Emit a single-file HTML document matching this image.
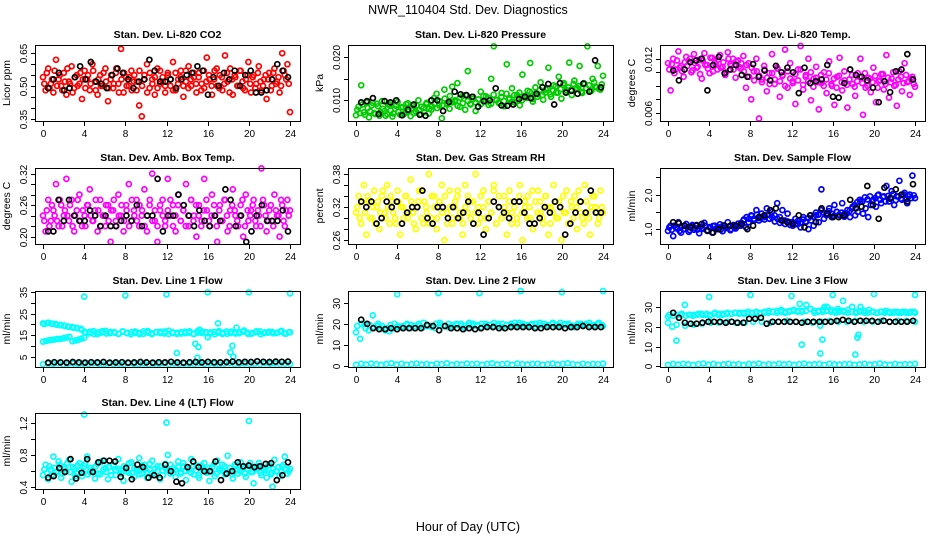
<!DOCTYPE html>
<html><head><meta charset="utf-8"><style>
html,body{margin:0;padding:0;background:#fff;}
svg{display:block;font-family:"Liberation Sans",Arial,sans-serif;}
</style></head><body>
<svg id="chart" width="936" height="540" viewBox="0 0 936 540" xmlns="http://www.w3.org/2000/svg">
<rect x="0" y="0" width="936" height="540" fill="#fff"/>
<text x="468" y="14" text-anchor="middle" font-size="12.5">NWR_110404  Std. Dev. Diagnostics</text>
<text x="468" y="531" text-anchor="middle" font-size="12.5">Hour of Day (UTC)</text>
</svg>
<script>
// ---------- data (hour spans and values) ----------
const xTicks = [0,4,8,12,16,20,24];
const fullSpan = [0,24];
const altSpan = [0.12,23.88];
const blackSpan = [0.5,23.8];

const co2Y = [0.54,0.48,0.58,0.51,0.47,0.62,0.53,0.50,0.56,0.46,0.52,0.59,0.49,0.55,0.51,0.44,0.57,0.53,0.48,0.60,0.52,0.46,0.55,0.50,0.58,0.43,0.53,0.49,0.56,0.51,0.67,0.47,0.54,0.50,0.57,0.52,0.48,0.41,0.36,0.55,0.60,0.49,0.53,0.46,0.58,0.51,0.54,0.47,0.56,0.50,0.61,0.48,0.53,0.57,0.45,0.52,0.59,0.50,0.54,0.47,0.56,0.51,0.49,0.63,0.53,0.46,0.57,0.50,0.55,0.48,0.64,0.52,0.58,0.46,0.54,0.50,0.57,0.49,0.53,0.61,0.47,0.55,0.51,0.59,0.48,0.53,0.44,0.56,0.50,0.58,0.52,0.47,0.65,0.55,0.60,0.38];
const co2Y2 = [0.51,0.56,0.49,0.53,0.57,0.50,0.55,0.48,0.52,0.58,0.51,0.47,0.54,0.50,0.56,0.53,0.49,0.55,0.51,0.57,0.48,0.53,0.50,0.56,0.52,0.49,0.55,0.51,0.58,0.47,0.53,0.56,0.50,0.54,0.48,0.55,0.52,0.57,0.50,0.53,0.47,0.56,0.51,0.54,0.49,0.57,0.52,0.50,0.55,0.53,0.48,0.56,0.51,0.54,0.50,0.57,0.49,0.53,0.56,0.51,0.54,0.48,0.57,0.52,0.55,0.50,0.53,0.58,0.49,0.54,0.51,0.56,0.47,0.53,0.55,0.50,0.57,0.52,0.48,0.55,0.51,0.54,0.49,0.56,0.52,0.50,0.55,0.53,0.48,0.56,0.51,0.54,0.50,0.57,0.53,0.51];
const co2BlackY = [0.49,0.53,0.56,0.48,0.49,0.54,0.59,0.53,0.61,0.52,0.51,0.49,0.55,0.58,0.56,0.53,0.49,0.52,0.53,0.62,0.57,0.52,0.52,0.53,0.49,0.53,0.55,0.56,0.59,0.57,0.46,0.54,0.50,0.56,0.53,0.57,0.50,0.55,0.57,0.47,0.47,0.48,0.53,0.60,0.57,0.54];

const pressY = [0.0065,0.0085,0.0135,0.0072,0.0095,0.0060,0.0088,0.0070,0.0092,0.0064,0.0098,0.0075,0.0068,0.0090,0.0062,0.0080,0.0096,0.0066,0.0084,0.0071,0.0093,0.0063,0.0087,0.0074,0.0100,0.0067,0.0082,0.0091,0.0069,0.0078,0.0105,0.0115,0.0088,0.0058,0.0125,0.0093,0.0080,0.0132,0.0097,0.0140,0.0085,0.0110,0.0078,0.0168,0.0092,0.0103,0.0075,0.0086,0.0120,0.0098,0.0109,0.0089,0.0150,0.0226,0.0101,0.0093,0.0117,0.0086,0.0184,0.0105,0.0128,0.0095,0.0112,0.0088,0.0160,0.0106,0.0122,0.0187,0.0097,0.0130,0.0114,0.0142,0.0101,0.0125,0.0176,0.0108,0.0135,0.0118,0.0155,0.0104,0.0140,0.0124,0.0188,0.0112,0.0146,0.0129,0.0180,0.0117,0.0138,0.0226,0.0122,0.0150,0.0132,0.0180,0.0125,0.0157];
const pressY2 = [0.0078,0.0070,0.0090,0.0066,0.0082,0.0074,0.0094,0.0068,0.0086,0.0072,0.0080,0.0064,0.0090,0.0076,0.0069,0.0087,0.0073,0.0083,0.0067,0.0091,0.0075,0.0081,0.0070,0.0088,0.0077,0.0085,0.0072,0.0094,0.0080,0.0086,0.0092,0.0082,0.0098,0.0088,0.0104,0.0090,0.0110,0.0095,0.0100,0.0087,0.0106,0.0093,0.0112,0.0098,0.0090,0.0108,0.0095,0.0102,0.0091,0.0110,0.0097,0.0105,0.0092,0.0113,0.0100,0.0095,0.0108,0.0098,0.0115,0.0102,0.0096,0.0112,0.0104,0.0118,0.0100,0.0110,0.0106,0.0120,0.0103,0.0115,0.0108,0.0124,0.0112,0.0118,0.0128,0.0114,0.0122,0.0132,0.0118,0.0126,0.0136,0.0120,0.0130,0.0124,0.0138,0.0127,0.0133,0.0120,0.0140,0.0128,0.0135,0.0122,0.0142,0.0130,0.0126,0.0137];
const pressBlackY = [0.0095,0.0098,0.0105,0.0068,0.0098,0.0095,0.0100,0.0065,0.0078,0.0090,0.0066,0.0064,0.0100,0.0100,0.0075,0.0096,0.0120,0.0114,0.0112,0.0108,0.0085,0.0098,0.0100,0.0128,0.0088,0.0087,0.0090,0.0103,0.0108,0.0105,0.0115,0.0130,0.0138,0.0090,0.0140,0.0118,0.0122,0.0115,0.0139,0.0120,0.0193,0.0130];

const tempY = [0.0115,0.0085,0.0120,0.0108,0.0128,0.0112,0.0100,0.0122,0.0117,0.0105,0.0125,0.0110,0.0119,0.0098,0.0126,0.0113,0.0104,0.0121,0.0116,0.0108,0.0124,0.0111,0.0102,0.0127,0.0114,0.0120,0.0099,0.0118,0.0109,0.0123,0.0088,0.0115,0.0075,0.0106,0.0120,0.0054,0.0097,0.0112,0.0084,0.0104,0.0125,0.0092,0.0110,0.0078,0.0101,0.0130,0.0088,0.0115,0.0095,0.0070,0.0108,0.0134,0.0086,0.0102,0.0120,0.0074,0.0098,0.0111,0.0064,0.0093,0.0105,0.0082,0.0117,0.0090,0.0069,0.0100,0.0121,0.0085,0.0096,0.0066,0.0108,0.0092,0.0079,0.0104,0.0120,0.0058,0.0088,0.0099,0.0083,0.0110,0.0072,0.0095,0.0103,0.0086,0.0124,0.0077,0.0098,0.0090,0.0068,0.0106,0.0084,0.0115,0.0094,0.0080,0.0100,0.0089];
const tempY2 = [0.0108,0.0114,0.0104,0.0118,0.0110,0.0106,0.0116,0.0112,0.0120,0.0107,0.0115,0.0111,0.0103,0.0118,0.0113,0.0109,0.0121,0.0106,0.0114,0.0119,0.0110,0.0116,0.0105,0.0120,0.0112,0.0108,0.0117,0.0111,0.0115,0.0106,0.0113,0.0100,0.0110,0.0096,0.0106,0.0101,0.0094,0.0108,0.0099,0.0092,0.0104,0.0097,0.0109,0.0095,0.0102,0.0090,0.0106,0.0098,0.0093,0.0103,0.0096,0.0108,0.0091,0.0100,0.0095,0.0105,0.0089,0.0099,0.0094,0.0102,0.0090,0.0097,0.0104,0.0092,0.0098,0.0088,0.0101,0.0094,0.0106,0.0091,0.0097,0.0102,0.0089,0.0095,0.0100,0.0093,0.0104,0.0090,0.0098,0.0094,0.0101,0.0088,0.0096,0.0103,0.0092,0.0099,0.0094,0.0105,0.0091,0.0097,0.0100,0.0093,0.0102,0.0095,0.0098,0.0092];
const tempBlackY = [0.0107,0.0096,0.0108,0.0116,0.0118,0.0120,0.0085,0.0113,0.0122,0.0104,0.0108,0.0113,0.0102,0.0100,0.0114,0.0100,0.0107,0.0096,0.0112,0.0105,0.0110,0.0105,0.0082,0.0110,0.0093,0.0095,0.0097,0.0113,0.0078,0.0077,0.0093,0.0108,0.0102,0.0100,0.0096,0.0088,0.0072,0.0095,0.0083,0.0106,0.0108,0.0125,0.0097];

const boxY = [0.24,0.21,0.27,0.23,0.25,0.30,0.22,0.26,0.24,0.31,0.23,0.27,0.21,0.25,0.28,0.22,0.24,0.26,0.29,0.23,0.25,0.21,0.27,0.24,0.22,0.26,0.19,0.25,0.23,0.28,0.24,0.21,0.26,0.30,0.23,0.25,0.27,0.22,0.24,0.29,0.21,0.26,0.32,0.23,0.19,0.25,0.27,0.22,0.31,0.24,0.26,0.21,0.28,0.23,0.25,0.30,0.22,0.27,0.24,0.20,0.26,0.23,0.31,0.25,0.22,0.28,0.24,0.19,0.26,0.23,0.27,0.21,0.25,0.29,0.24,0.22,0.26,0.20,0.28,0.23,0.25,0.27,0.22,0.24,0.33,0.26,0.21,0.25,0.23,0.28,0.24,0.20,0.26,0.22,0.27,0.25];
const boxY2 = [0.23,0.25,0.22,0.26,0.24,0.23,0.27,0.22,0.25,0.24,0.26,0.22,0.24,0.27,0.23,0.25,0.22,0.26,0.24,0.23,0.27,0.25,0.22,0.24,0.26,0.23,0.25,0.27,0.22,0.24,0.26,0.23,0.25,0.22,0.27,0.24,0.23,0.26,0.25,0.22,0.24,0.27,0.23,0.25,0.22,0.26,0.24,0.23,0.25,0.27,0.22,0.24,0.26,0.23,0.25,0.22,0.24,0.27,0.23,0.26,0.24,0.22,0.25,0.27,0.23,0.24,0.26,0.22,0.25,0.23,0.27,0.24,0.22,0.26,0.25,0.23,0.24,0.27,0.22,0.25,0.24,0.26,0.23,0.25,0.22,0.27,0.24,0.23,0.26,0.22,0.25,0.24,0.27,0.23,0.25,0.24];
const boxBlackY = [0.21,0.21,0.27,0.23,0.27,0.24,0.23,0.23,0.25,0.24,0.22,0.24,0.22,0.22,0.23,0.24,0.23,0.26,0.22,0.24,0.24,0.31,0.21,0.24,0.24,0.28,0.26,0.24,0.22,0.25,0.23,0.22,0.24,0.23,0.29,0.27,0.22,0.24,0.19,0.21,0.24,0.26,0.23,0.23,0.23,0.25,0.21];

const rhY = [0.31,0.34,0.29,0.36,0.27,0.33,0.30,0.35,0.32,0.28,0.34,0.31,0.36,0.29,0.33,0.30,0.35,0.27,0.32,0.34,0.30,0.37,0.31,0.28,0.33,0.35,0.29,0.32,0.38,0.30,0.34,0.28,0.33,0.36,0.26,0.31,0.35,0.29,0.32,0.34,0.30,0.27,0.36,0.31,0.33,0.29,0.38,0.32,0.30,0.35,0.28,0.33,0.31,0.36,0.29,0.34,0.30,0.32,0.27,0.35,0.31,0.33,0.29,0.36,0.26,0.32,0.34,0.30,0.28,0.33,0.35,0.31,0.29,0.34,0.27,0.32,0.36,0.30,0.33,0.26,0.31,0.35,0.29,0.32,0.34,0.28,0.33,0.30,0.36,0.31,0.27,0.34,0.32,0.29,0.35,0.31];
const rhY2 = [0.32,0.30,0.33,0.31,0.34,0.30,0.32,0.29,0.33,0.31,0.35,0.30,0.32,0.34,0.31,0.29,0.33,0.32,0.30,0.34,0.31,0.33,0.29,0.32,0.35,0.30,0.33,0.31,0.29,0.34,0.32,0.30,0.33,0.31,0.34,0.29,0.32,0.30,0.33,0.35,0.31,0.29,0.32,0.34,0.30,0.33,0.31,0.29,0.34,0.32,0.30,0.33,0.31,0.35,0.29,0.32,0.30,0.34,0.31,0.33,0.29,0.32,0.30,0.34,0.31,0.33,0.30,0.32,0.35,0.29,0.31,0.33,0.30,0.34,0.32,0.29,0.31,0.33,0.30,0.32,0.34,0.31,0.29,0.33,0.30,0.32,0.35,0.31,0.29,0.33,0.30,0.32,0.34,0.31,0.30,0.32];
const rhBlackY = [0.33,0.32,0.33,0.29,0.30,0.33,0.32,0.33,0.29,0.31,0.32,0.32,0.35,0.30,0.29,0.32,0.32,0.30,0.32,0.30,0.31,0.33,0.29,0.31,0.27,0.30,0.33,0.32,0.31,0.30,0.33,0.33,0.31,0.29,0.29,0.30,0.32,0.31,0.33,0.32,0.27,0.29,0.31,0.33,0.31,0.35,0.31,0.31];

const flowY = [0.95,1.10,0.80,1.05,1.20,0.90,1.00,1.15,0.92,1.08,0.98,1.12,0.88,1.03,1.18,0.96,1.06,0.90,1.10,1.00,1.14,0.94,1.05,1.20,0.97,1.08,1.02,1.16,1.10,1.25,1.05,1.20,1.40,1.30,1.55,1.25,1.45,1.35,1.60,1.30,1.50,1.40,1.75,1.35,1.55,1.25,1.45,1.20,1.10,1.30,1.15,1.05,1.35,1.20,1.00,1.25,1.10,1.40,1.20,2.15,1.30,1.45,1.60,1.35,1.70,1.50,1.40,1.75,1.45,1.55,1.35,1.65,1.40,1.50,1.80,1.45,1.60,1.35,1.70,1.85,1.65,2.00,1.75,1.95,2.25,1.80,2.10,1.70,1.95,2.40,1.85,2.05,1.75,2.00,2.55,1.90];
const flowY2 = [1.05,0.98,1.10,1.02,0.95,1.08,1.00,1.06,0.97,1.12,1.03,0.99,1.07,1.01,1.10,0.96,1.04,1.09,1.00,1.06,0.98,1.11,1.03,1.07,1.00,1.12,1.05,1.10,1.18,1.28,1.35,1.30,1.38,1.25,1.42,1.32,1.36,1.28,1.40,1.30,1.34,1.22,1.30,1.18,1.25,1.15,1.22,1.12,1.20,1.14,1.24,1.18,1.28,1.22,1.32,1.40,1.36,1.48,1.42,1.55,1.48,1.40,1.52,1.45,1.38,1.50,1.42,1.48,1.36,1.46,1.52,1.60,1.70,1.78,1.85,1.80,1.92,1.86,1.95,1.82,1.90,1.98,1.85,1.93,1.80,1.96,1.88,2.02,1.84,1.94,1.88,2.00,1.86,1.95,1.90,1.98];
const flowBlackY = [1.20,1.17,1.10,1.05,1.10,1.15,0.95,0.90,1.00,1.10,1.10,1.10,1.15,1.00,1.10,1.35,1.40,1.55,1.60,1.25,1.20,1.15,1.40,1.05,1.40,1.20,1.60,1.45,1.35,1.35,1.40,1.85,1.60,1.65,2.25,1.70,1.30,2.20,1.90,2.15,2.00,1.80,2.30];

const line1HighY = [20.5,20.6,20.4,20.2,19.8,19.5,19.0,18.8,18.4,18.0,16.5,15.8,16.9,15.5,16.2,17.0,15.9,16.4,15.6,16.8,16.1,15.4,16.7,16.0,15.7,16.9,15.5,16.3,16.6,15.8,17.1,16.0,15.6,16.4,15.9,16.8,15.5,16.2,16.7,15.9,16.3,15.4,16.9,16.1,15.7,16.6,15.8,16.4,17.2,15.6,16.0,16.8,15.5,16.3,16.6,15.9,16.2,17.0,15.7,16.4];
const line1High2Y = [20.2,20.8,20.3,19.9,19.6,19.3,18.9,18.5,18.2,17.6,16.0,16.6,15.6,16.3,16.9,15.8,16.5,16.1,15.7,16.6,15.9,16.4,16.0,15.5,16.8,16.2,15.9,16.5,16.0,16.7,15.6,16.3,16.1,15.8,16.6,16.2,15.7,16.9,16.0,16.4,15.8,16.5,16.2,15.6,16.7,16.0,16.3,15.9,16.6,16.1,15.7,16.4,16.8,15.9,16.2,16.5,16.0,16.7,15.8,16.3];
const line1LowSpan = [0,4];
const line1LowY = [12.0,12.3,12.6,12.8,13.0,13.2,13.3,13.6,13.9,14.2,12.2,12.5,12.9,13.4,13.8];
const line1BaseY = [1.4,1.7,1.5,1.9,1.3,1.6,1.8,1.4,1.7,1.5,1.9,1.6,1.3,1.8,1.5,1.7,1.4,1.9,1.6,1.5,1.8,1.3,1.7,1.6,1.9,1.4,1.8,1.5,1.7,1.6,1.4,1.9,1.5,1.8,1.6,1.3,1.7,1.9,1.5,1.6,1.8,1.4,1.7,1.5,1.9,1.6,1.8,1.4,1.7,1.5];
const line1OutX = [4,8,12,16,20,24,13,14.8,15,15.1,17,18.2,18.4,18.5,16,18.8,15.2];
const line1OutY = [33,33.5,34,35,35,34.5,6.7,11,4.5,9.5,20.5,7,10,5,14,18.5,17.5];
const line1BlackY = [2.2,2.4,2.3,2.2,2.5,2.3,2.2,2.4,2.3,2.5,2.2,2.3,2.4,2.2,2.3,2.5,2.3,2.2,2.4,2.3,2.6,2.3,2.2,2.4,2.5,2.3,2.6,2.4,2.3,2.5,2.7,2.4,2.6,2.5,2.8,2.6,2.5,2.7,2.6,2.7];

const line2HighY = [16,13,20,17,24,19,18,17,16.5,18,19,18.5,19.5,18,19,20,18.5,19.5,19,18,20.5,19,18.5,19.5,20,19,18,19.5,20,19,18.5,20,19.5,19,20,18.5,19.5,20,19,20.5,19,19.5,20,18.5,19.5,20,19,20.5,19.5,19,20,19.5,18.5,20,19.5,20,19,19.5,20.5,19];
const line2High2Y = [19,20,18,19.5,18.5,20,19,18,19.5,20,18.5,19,20,19.5,18,19,20.5,19,18.5,20,19.5,19,20,18.5,19.5,20,19,20.5,19,19.5,20,19,19.5,20.5,19,20,19.5,19,20.5,19.5,20,19,19.5,20,20.5,19,19.5,20,19,20.5,19.5,20,19,19.5,20,19.5,20.5,19,20,19.5];
const line2BaseY = [0.8,1.2,0.9,1.3,1.0,0.7,1.1,1.4,0.9,1.2,0.8,1.0,1.3,0.9,1.1,0.7,1.2,1.0,1.4,0.8,1.1,0.9,1.3,1.0,1.2,0.8,1.1,1.4,0.9,1.0,1.2,0.8,1.3,1.0,0.9,1.1,1.2,0.8,1.0,1.3,0.9,1.1,1.4,1.0,0.8,1.2,0.9,1.1,1.0,1.3];
const line2OutX = [4,8,12,16,20,24];
const line2OutY = [34,34.5,34.5,35.5,35,35.5];
const line2BlackY = [22,20,18,17.5,17.5,18,17.5,18,18,18,18,19.5,19,17,19,18,18,17.5,18,17.5,18,18.5,18.5,18,18,18.5,18.5,18.5,18.5,18,18,18.5,18.5,18.5,18,18.5,18.5,19,18.5,18.5,18.5];

const line3HighY = [25,20,13,26,31,26,25.5,26,26.5,26,25.5,26.5,26,26,26.5,26.5,27,26.5,27,26.5,27,27,26.5,27,27,27.5,27,27.5,27,27.5,28,27.5,28,31,29,27,28,27.5,30,28.5,27,28,27.5,28.5,30,27.5,28,27,28.5,27.5,27,27.5,28,27,27.5,27,27.5,27,27.5,27];
const line3High2Y = [26,25.5,26,26.5,25.5,26,26,26.5,26,26.5,26,27,26.5,26.5,27,26.5,27,27,26.5,27.5,27,27.5,27,27.5,28,27.5,28,28.5,27.5,28,28.5,28,27.5,28,29,28,27.5,28.5,28,27.5,28,27.5,28,27,27.5,27,27.5,28,27,27.5,27,27.5,27,27.5,27,27.5,27,27.5,27,27.5];
const line3MidY = [22,21,20.5,21,21.5,22,22,22.5,22,22,22.5,22.5,22,22.5,23,22.5,22.5,22,22.5,23,22.5,22.5,23,22.5,22.5,23,22.5,23,23,22.5];
const line3BaseY = [0.8,1.2,0.9,1.3,1.0,0.7,1.1,1.4,0.9,1.2,0.8,1.0,1.3,0.9,1.1,0.7,1.2,1.0,1.4,0.8,1.1,0.9,1.3,1.0,1.2,0.8,1.1,1.4,0.9,1.0,1.2,0.8,1.3,1.0,0.9,1.1,1.2,0.8,1.0,1.3,0.9,1.1,1.4,1.0,0.8,1.2,0.9,1.1,1.0,1.3];
const line3OutX = [4,8,12,16,20,24,13,14.8,15,18.2,18.4,18.5,17,14.8,12.8,15.2,16.5,18.7];
const line3OutY = [35,36,35.5,36,36.5,36,11,6.5,13.5,6,14.5,16,33,20.5,31.5,30,29,30];
const line3BlackY = [27,24.5,22,21.5,21.5,22,22.5,22.5,22.5,22,22.5,22,22,24,24,24.5,21.5,22.5,22.5,22.5,22.5,22.5,22,22.5,22.5,22.5,22.5,22.5,23,23.5,23,22.5,23,23,23,22.5,23,22.5,22.5,22.5,22.5,23];

const line4Y = [0.55,0.68,0.50,0.62,0.78,0.58,0.72,0.52,0.65,0.60,0.74,0.47,0.63,0.57,0.70,0.54,0.66,0.78,0.59,0.62,0.51,0.69,0.56,0.73,0.64,0.50,0.60,0.67,0.55,0.75,0.61,0.48,0.65,0.58,0.71,0.53,0.63,0.76,0.57,0.68,0.52,0.62,0.73,0.55,0.66,0.50,0.61,0.69,0.80,0.57,0.64,0.53,0.72,0.59,0.66,0.49,0.62,0.75,0.56,0.67,0.52,0.63,0.70,0.58,0.48,0.65,0.54,0.73,0.61,0.68,0.56,0.79,0.60,0.51,0.66,0.57,0.71,0.63,0.53,0.67,0.59,0.45,0.64,0.70,0.55,0.62,0.52,0.68,0.58,0.74,0.60,0.54,0.66,0.78,0.57,0.63];
const line4Y2 = [0.62,0.58,0.66,0.55,0.64,0.60,0.68,0.57,0.63,0.70,0.59,0.65,0.54,0.67,0.61,0.58,0.69,0.56,0.64,0.60,0.66,0.57,0.71,0.62,0.59,0.65,0.55,0.68,0.61,0.63,0.57,0.66,0.60,0.70,0.58,0.64,0.61,0.56,0.67,0.62,0.59,0.69,0.57,0.63,0.60,0.66,0.55,0.64,0.61,0.68,0.58,0.62,0.65,0.57,0.70,0.60,0.63,0.58,0.66,0.61,0.55,0.67,0.62,0.59,0.64,0.60,0.69,0.57,0.63,0.61,0.66,0.58,0.64,0.56,0.68,0.62,0.60,0.65,0.57,0.63,0.70,0.59,0.62,0.66,0.58,0.64,0.61,0.67,0.56,0.63,0.60,0.65,0.59,0.68,0.62,0.60];
const line4OutX = [4,12,20,22.3];
const line4OutY = [1.30,1.20,1.22,0.41];
const line4BlackY = [0.52,0.54,0.64,0.59,0.75,0.51,0.58,0.75,0.59,0.71,0.73,0.73,0.72,0.53,0.64,0.50,0.68,0.65,0.52,0.55,0.52,0.68,0.60,0.47,0.45,0.65,0.72,0.65,0.60,0.60,0.72,0.49,0.57,0.60,0.71,0.66,0.67,0.65,0.66,0.69,0.70,0.49,0.55,0.71];

const co2Ticks=[0.35,0.40,0.45,0.50,0.55,0.60,0.65], co2Labels=["0.35","","","0.50","","","0.65"];
const pressTicks=[0.010,0.015,0.020], pressLabels=["0.010","","0.020"];
const tempTicks=[0.006,0.0075,0.009,0.0105,0.012], tempLabels=["0.006","","","","0.012"];
const boxTicks=[0.20,0.22,0.24,0.26,0.28,0.30,0.32], boxLabels=["0.20","","","0.26","","","0.32"];
const rhTicks=[0.26,0.28,0.30,0.32,0.34,0.36,0.38], rhLabels=["0.26","","","0.32","","","0.38"];
const flowTicks=[1.0,1.5,2.0,2.5], flowLabels=["1.0","","2.0",""];
const line1Ticks=[5,10,15,20,25,30,35], line1Labels=["5","","15","","25","","35"];
const line2Ticks=[0,10,20,30], line2Labels=["0","10","20","30"];
const line3Ticks=[0,10,20,30], line3Labels=["0","10","20","30"];
const line4Ticks=[0.4,0.6,0.8,1.0,1.2], line4Labels=["0.4","","0.8","","1.2"];

// ---------- layout ----------
const NS="http://www.w3.org/2000/svg";
const svg=document.getElementById('chart');
const colL=[35,348,660], rowT=[45,168,291,413], PW=265, PH=76;
const XMIN=-0.78, XMAX=24.97;
const panels=[
 {id:'co2',title:'Stan. Dev. Li-820 CO2',ylab:'Licor ppm',c:0,r:0,y0:0.339,y1:0.688,ticks:co2Ticks,labels:co2Labels,col:'#ff0000',
  series:[[co2Y,fullSpan],[co2Y2,altSpan]],out:[],black:co2BlackY},
 {id:'pressure',title:'Stan. Dev. Li-820 Pressure',ylab:'kPa',c:1,r:0,y0:0.00516,y1:0.0229,ticks:pressTicks,labels:pressLabels,col:'#00cc00',
  series:[[pressY,fullSpan],[pressY2,altSpan]],out:[],black:pressBlackY},
 {id:'temp',title:'Stan. Dev. Li-820 Temp.',ylab:'degrees C',c:2,r:0,y0:0.00512,y1:0.01351,ticks:tempTicks,labels:tempLabels,col:'#ff00ff',
  series:[[tempY,fullSpan],[tempY2,altSpan]],out:[],black:tempBlackY},
 {id:'ambbox',title:'Stan. Dev. Amb. Box Temp.',ylab:'degrees C',c:0,r:1,y0:0.186,y1:0.3307,ticks:boxTicks,labels:boxLabels,col:'#ff00ff',
  series:[[boxY,fullSpan],[boxY2,altSpan]],out:[],black:boxBlackY},
 {id:'rh',title:'Stan. Dev. Gas Stream RH',ylab:'percent',c:1,r:1,y0:0.253,y1:0.391,ticks:rhTicks,labels:rhLabels,col:'#ffff00',
  series:[[rhY,fullSpan],[rhY2,altSpan]],out:[],black:rhBlackY},
 {id:'sampleflow',title:'Stan. Dev. Sample Flow',ylab:'ml/min',c:2,r:1,y0:0.57,y1:2.77,ticks:flowTicks,labels:flowLabels,col:'#0000ff',
  series:[[flowY,fullSpan],[flowY2,altSpan]],out:[],black:flowBlackY},
 {id:'line1',title:'Stan. Dev. Line 1 Flow',ylab:'ml/min',c:0,r:2,y0:0.16,y1:35.6,ticks:line1Ticks,labels:line1Labels,col:'#00ffff',
  series:[[line1HighY,fullSpan],[line1High2Y,altSpan],[line1LowY,line1LowSpan],[line1BaseY,fullSpan]],out:[line1OutX,line1OutY],black:line1BlackY},
 {id:'line2',title:'Stan. Dev. Line 2 Flow',ylab:'ml/min',c:1,r:2,y0:-0.3,y1:35.5,ticks:line2Ticks,labels:line2Labels,col:'#00ffff',
  series:[[line2HighY,fullSpan],[line2High2Y,altSpan],[line2BaseY,fullSpan]],out:[line2OutX,line2OutY],black:line2BlackY},
 {id:'line3',title:'Stan. Dev. Line 3 Flow',ylab:'ml/min',c:2,r:2,y0:-0.3,y1:38,ticks:line3Ticks,labels:line3Labels,col:'#00ffff',
  series:[[line3HighY,fullSpan],[line3High2Y,altSpan],[line3MidY,fullSpan],[line3BaseY,fullSpan]],out:[line3OutX,line3OutY],black:line3BlackY},
 {id:'line4',title:'Stan. Dev. Line 4 (LT) Flow',ylab:'ml/min',c:0,r:3,y0:0.38,y1:1.319,ticks:line4Ticks,labels:line4Labels,col:'#00ffff',
  series:[[line4Y,fullSpan],[line4Y2,altSpan]],out:[line4OutX,line4OutY],black:line4BlackY}
];

function mk(tag,attrs,parent){const e=document.createElementNS(NS,tag);for(const k in attrs)e.setAttribute(k,attrs[k]);(parent||svg).appendChild(e);return e;}

panels.forEach(p=>{
 const L=colL[p.c], T=rowT[p.r], B=T+PH, R=L+PW;
 const sx=v=>L+(v-XMIN)/(XMAX-XMIN)*PW;
 const sy=v=>B-(v-p.y0)/(p.y1-p.y0)*PH;
 const g=mk('g',{});
 
 
 const t=mk('text',{x:(L+R)/2,y:T-7,'text-anchor':'middle','font-size':'10.5','font-weight':'bold'},g);
 t.textContent=p.title;
 
 
 const yl=mk('text',{x:0,y:0,'text-anchor':'middle','font-size':'10.5',transform:`translate(${L-25},${(T+B)/2}) rotate(-90)`},g);
 yl.textContent=p.ylab;
 
 
 const pts=mk('g',{fill:'none',stroke:p.col,'stroke-width':'1.7'},g);
 
 
 p.series.forEach(s=>{
  const ys=s[0], sp=s[1], n=ys.length;
  ys.forEach((v,i)=>{
   const h=sp[0]+(n>1?i*(sp[1]-sp[0])/(n-1):0);
   const c=mk('circle',{cx:sx(h).toFixed(1),cy:sy(v).toFixed(1),r:'2.5'},pts);
   
   
  });
 });
 if(p.out.length){
  p.out[0].forEach((h,i)=>{
   const c=mk('circle',{cx:sx(h).toFixed(1),cy:sy(p.out[1][i]).toFixed(1),r:'2.5'},pts);
   
   
  });
 }
 const bp=mk('g',{fill:'none',stroke:'#000','stroke-width':'1.7'},g);
 
 
 const nb=p.black.length;
 p.black.forEach((v,i)=>{
  const h=blackSpan[0]+i*(blackSpan[1]-blackSpan[0])/(nb-1);
  const c=mk('circle',{cx:sx(h).toFixed(1),cy:sy(v).toFixed(1),r:'2.5'},bp);
  
  
 });
 const bx=mk('rect',{x:L+0.5,y:T+0.5,width:PW,height:PH,fill:'none',stroke:'#000','stroke-width':'1'},g);
 
 
 const xa=mk('g',{stroke:'#000','stroke-width':'1'},g);
 
 
 xTicks.forEach(v=>{
  const x=Math.round(sx(v))+0.5;
  mk('line',{x1:x,x2:x,y1:B+0.5,y2:B+5},xa);
  const tl=mk('text',{x:x,y:B+16,'text-anchor':'middle','font-size':'10',stroke:'none',fill:'#000'},g);
  tl.textContent=String(v);
  
  
 });
 const ya=mk('g',{stroke:'#000','stroke-width':'1'},g);
 
 
 p.ticks.forEach((v,i)=>{
  const y=Math.round(sy(v))+0.5;
  mk('line',{x1:L+0.5,x2:L-4,y1:y,y2:y},ya);
  if(p.labels[i]){
   const tl=mk('text',{x:0,y:0,'text-anchor':'middle','font-size':'10',transform:`translate(${L-8},${y}) rotate(-90)`},g);
   tl.textContent=p.labels[i];
   
   
  }
 });
});
</script>
</body></html>
